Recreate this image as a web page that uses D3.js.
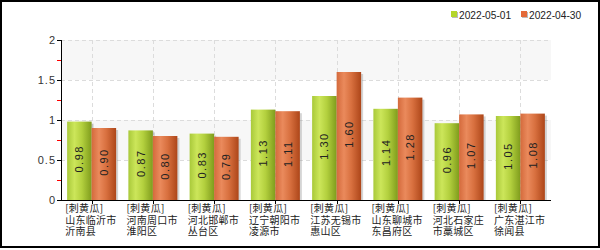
<!DOCTYPE html>
<html>
<head>
<meta charset="utf-8">
<script src="https://cdn.jsdelivr.net/npm/d3@7"></script>
<style>
  body { margin: 0; background: #fff; }
  svg { display: block; font-family: "Liberation Sans", Arial, sans-serif; }
</style>
</head>
<body>
<script>
const categories = [
  ["[刺黄瓜]", "山东临沂市", "沂南县"],
  ["[刺黄瓜]", "河南周口市", "淮阳区"],
  ["[刺黄瓜]", "河北邯郸市", "丛台区"],
  ["[刺黄瓜]", "辽宁朝阳市", "凌源市"],
  ["[刺黄瓜]", "江苏无锡市", "惠山区"],
  ["[刺黄瓜]", "山东聊城市", "东昌府区"],
  ["[刺黄瓜]", "河北石家庄", "市藁城区"],
  ["[刺黄瓜]", "广东湛江市", "徐闻县"]
]
const seriesNames = ["2022-05-01", "2022-04-30"]
const valuesMay01 = [0.98, 0.87, 0.83, 1.13, 1.30, 1.14, 0.96, 1.05]
const valuesApr30 = [0.90, 0.80, 0.79, 1.11, 1.60, 1.28, 1.07, 1.08]
const yTicks = [0, 0.5, 1, 1.5, 2]
const yMinorTicks = [0.25, 0.75, 1.25, 1.75]

const width = 600, height = 250
const plotL = 61, plotR = 551, plotT = 40, plotB = 200

const svg = d3.select("body").append("svg")
    .attr("width", width)
    .attr("height", height)

const defs = svg.append("defs")
function grad(id, stops) {
  const g = defs.append("linearGradient").attr("id", id)
      .attr("x1", "0%").attr("x2", "100%").attr("y1", "0%").attr("y2", "0%")
  stops.forEach(s => g.append("stop").attr("offset", s[0]).attr("stop-color", s[1]))
}
grad("gGreen", [["0%", "#a9c93a"], ["30%", "#cce65a"], ["60%", "#b3d03e"], ["100%", "#7f9c1c"]])
grad("gOrange", [["0%", "#d46a3c"], ["30%", "#ea8a5c"], ["60%", "#d8703f"], ["100%", "#ad4619"]])
const fills = ["url(#gGreen)", "url(#gOrange)"]
const legendColors = ["#b5d62a", "#e46a38"]

const x = d3.scaleBand().domain(d3.range(categories.length)).range([plotL, plotR])
    .paddingInner(0.2).paddingOuter(0.1)
const xs = d3.scaleBand().domain([0, 1]).range([0, x.bandwidth()])
const y = d3.scaleLinear().domain([0, 2]).range([plotB, plotT])

// alternating background bands
svg.append("g").selectAll("rect")
  .data(d3.range(4))
  .enter().append("rect")
    .attr("x", plotL)
    .attr("y", i => y(yTicks[i + 1]))
    .attr("width", plotR - plotL)
    .attr("height", i => y(yTicks[i]) - y(yTicks[i + 1]))
    .attr("fill", i => i % 2 === 1 ? "#f7f7f7" : "#ffffff")

// grid
const grid = svg.append("g").attr("stroke", "#dcdcdc").attr("stroke-dasharray", "4,3")
grid.selectAll(".h").data(yTicks.slice(1)).enter().append("line")
    .attr("x1", plotL).attr("x2", plotR)
    .attr("y1", d => y(d) + 0.5).attr("y2", d => y(d) + 0.5)
grid.selectAll(".v").data(d3.range(categories.length)).enter().append("line")
    .attr("x1", i => Math.round(x(i) + x.bandwidth() / 2) + 0.5)
    .attr("x2", i => Math.round(x(i) + x.bandwidth() / 2) + 0.5)
    .attr("y1", plotT).attr("y2", plotB)

// bars
const data = [valuesMay01, valuesApr30]
const groups = svg.append("g").selectAll("g")
  .data(categories.map((c, i) => i))
  .enter().append("g")
    .attr("transform", i => `translate(${x(i)},0)`)

groups.selectAll(".shadow")
  .data(i => data.map((vals, s) => ({ s, v: vals[i] })))
  .enter().append("rect")
    .attr("x", d => xs(d.s) + 2)
    .attr("y", d => y(d.v) + 2)
    .attr("width", xs.bandwidth())
    .attr("height", d => plotB - y(d.v) - 2)
    .attr("fill", "#888")
    .attr("opacity", 0.35)

groups.selectAll(".bar")
  .data(i => data.map((vals, s) => ({ s, v: vals[i] })))
  .enter().append("rect")
    .attr("x", d => xs(d.s))
    .attr("y", d => y(d.v))
    .attr("width", xs.bandwidth())
    .attr("height", d => plotB - y(d.v))
    .attr("fill", d => fills[d.s])

groups.selectAll(".lbl")
  .data(i => data.map((vals, s) => ({ s, v: vals[i] })))
  .enter().append("text")
    .attr("transform", d => `translate(${xs(d.s) + xs.bandwidth() / 2 + 4},${(y(d.v) + plotB) / 2 - 2}) rotate(-90)`)
    .attr("text-anchor", "middle")
    .attr("font-size", 11)
    .attr("letter-spacing", 1.5)
    .attr("fill", "#222")
    .text(d => d.v.toFixed(2))

// axes
const axes = svg.append("g").attr("stroke", "#000")
axes.append("line").attr("x1", plotL + 0.5).attr("x2", plotL + 0.5).attr("y1", plotT).attr("y2", plotB + 1)
axes.append("line").attr("x1", plotL).attr("x2", plotR).attr("y1", plotB + 0.5).attr("y2", plotB + 0.5)
axes.selectAll(".yt").data(yTicks).enter().append("line")
    .attr("x1", plotL - 4).attr("x2", plotL)
    .attr("y1", d => y(d) + 0.5).attr("y2", d => y(d) + 0.5)
axes.selectAll(".ym").data(yMinorTicks).enter().append("line")
    .attr("stroke", "#f00")
    .attr("x1", plotL - 4).attr("x2", plotL)
    .attr("y1", d => Math.round(y(d)) + 0.5).attr("y2", d => Math.round(y(d)) + 0.5)
axes.selectAll(".xt").data(d3.range(categories.length)).enter().append("line")
    .attr("x1", i => Math.round(x(i) + x.bandwidth() / 2) + 0.5)
    .attr("x2", i => Math.round(x(i) + x.bandwidth() / 2) + 0.5)
    .attr("y1", plotB).attr("y2", plotB + 4)

svg.append("g").selectAll("text")
  .data(yTicks).enter().append("text")
    .attr("x", plotL - 5)
    .attr("y", d => y(d) + 4)
    .attr("text-anchor", "end")
    .attr("font-size", 11)
    .attr("letter-spacing", 1)
    .attr("fill", "#333")
    .text(d => d)

// category labels: one text per line
const xl = svg.append("g")
    .attr("font-family", "'Noto Sans CJK SC', sans-serif")
    .attr("font-size", 10)
    .attr("fill", "#222")
categories.forEach((lines, i) => {
  xl.selectAll(null).data(lines).enter().append("text")
      .attr("x", x(i) - 2)
      .attr("y", (d, j) => 212 + j * 11.5)
      .attr("letter-spacing", 0.3)
      .text(d => d)
})

// legend
const legX = [451, 521]
const leg = svg.append("g").selectAll("g").data(seriesNames).enter().append("g")
    .attr("transform", (d, i) => `translate(${legX[i]},11)`)
leg.append("rect").attr("x", 1).attr("y", 1).attr("width", 6).attr("height", 6).attr("fill", "#bbb")
leg.append("rect").attr("width", 6).attr("height", 6).attr("fill", (d, i) => legendColors[i])
leg.append("text").attr("x", 8).attr("y", 7.5).attr("font-size", 10.2).attr("fill", "#222").text(d => d)

// outer frame
svg.append("rect").attr("x", 1).attr("y", 1).attr("width", 598).attr("height", 246)
    .attr("fill", "none").attr("stroke", "#000").attr("stroke-width", 2)
</script>
</body>
</html>
